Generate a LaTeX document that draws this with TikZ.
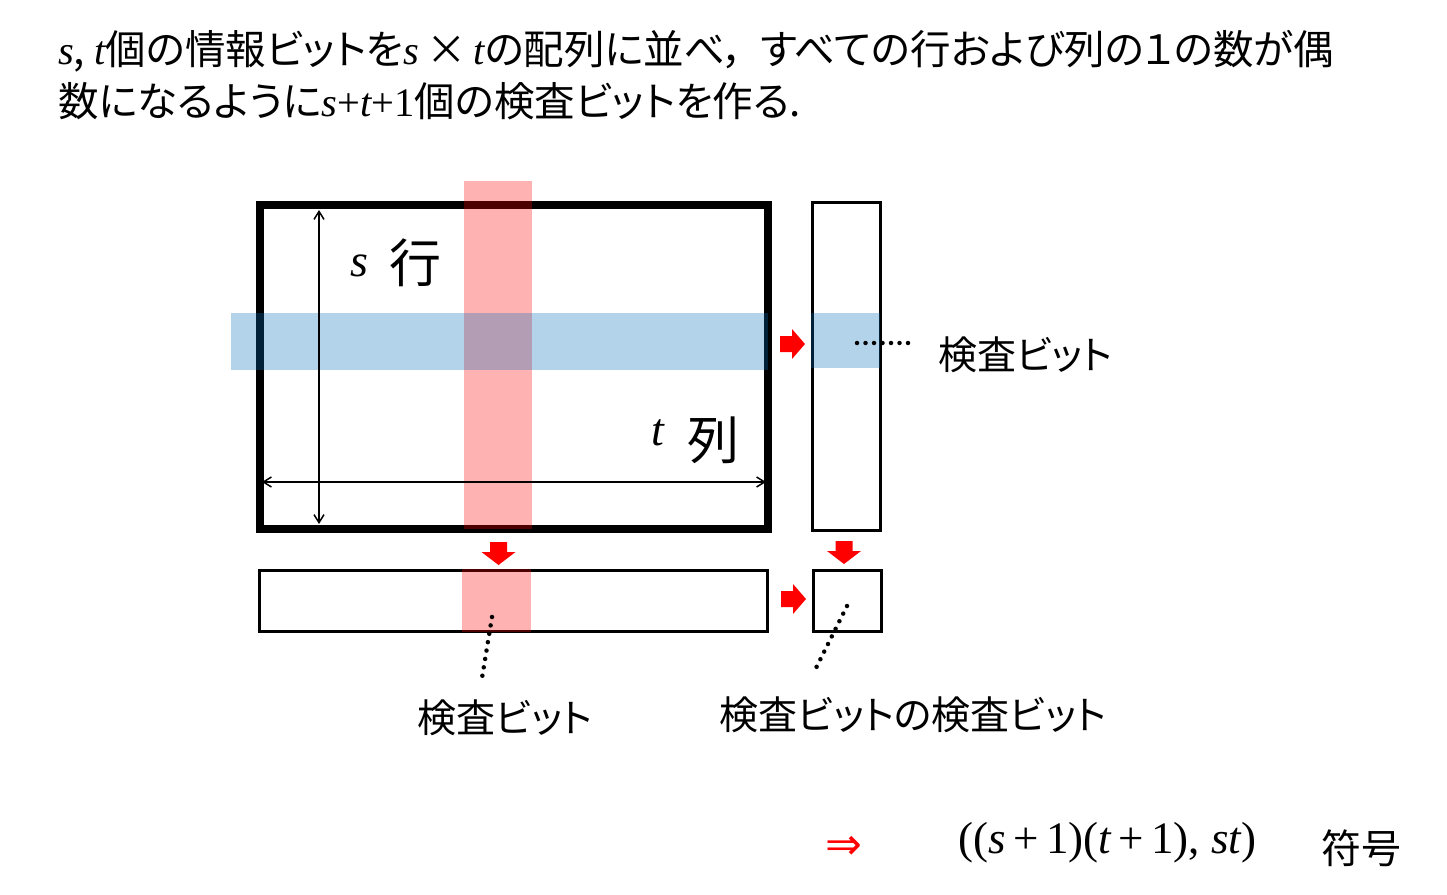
\documentclass[tikz,border=0pt]{standalone}
\usepackage{fontspec}
\setmainfont{Liberation Serif}
\newfontfamily\jp[RawFeature=+palt]{Noto Sans CJK JP}
\newfontfamily\dejavu{DejaVu Sans}
\usetikzlibrary{arrows.meta}
\newcommand\mvar[1]{{\rmfamily\itshape #1}}
\tikzset{
  rarr/.pic={\fill[red] (0,-8)--(12,-8)--(12,-15)--(25,0)--(12,15)--(12,8)--(0,8)--cycle;},
  darr/.pic={\fill[red] (-8.5,0)--(8.5,0)--(8.5,10)--(17,10)--(0,23)--(-17,10)--(-8.5,10)--cycle;}
}
\begin{document}
\begin{tikzpicture}[x=1pt,y=-1pt,
  mainframe/.style={draw=black,line width=8pt,minimum width=508pt,minimum height=324pt,inner sep=0pt,outer sep=0pt},
  cbox/.style={draw=black,line width=3pt,inner sep=0pt,outer sep=0pt},
  redband/.style={fill=red,fill opacity=0.3},
  blueband/.style={fill={rgb,255:red,5;green,110;blue,186},fill opacity=0.3},
  dimarrow/.style={line width=1.5pt,{Straight Barb[length=8pt,width=10pt]}-{Straight Barb[length=8pt,width=10pt]}},
  dotline/.style={line width=4.5pt,line cap=round,dash pattern=on 0pt off 8.5pt},
  topline/.style={font={\jp\fontsize{40.5}{42}\selectfont},inner sep=0pt,anchor=west},
  lbl/.style={font={\jp\fontsize{39}{42}\selectfont},inner sep=0pt},
  biglbl/.style={font={\jp\fontsize{52}{56}\selectfont},inner sep=0pt},
  varlbl/.style={font={\fontsize{46}{50}\selectfont\itshape},inner sep=0pt},
]
\fill[white] (0,0) rectangle (1447,894);
\useasboundingbox (0,0) rectangle (1447,894);

% header text
\node[topline] (line1) at (58,51) {\mvar{s}, \mvar{t}個の情報ビットを\mvar{s}\,×\,\mvar{t}の配列に並べ，\hspace{16pt}すべての行および列の１の数が偶};
\node[topline] (line2) at (58,101) {数になるように{\rmfamily\mvar{s}+\mvar{t}+1}個の検査ビットを作る.};

% boxes
\node[mainframe] (main) at (514,367) {};
\node[cbox,minimum width=68pt,minimum height=328pt] (col) at (846.5,366) {};
\node[cbox,minimum width=508pt,minimum height=61pt] (row) at (513,601) {};
\node[cbox,minimum width=68pt,minimum height=61pt] (corner) at (847,601) {};

% bands
\fill[redband] (464,181) rectangle (532,529);
\fill[redband] (462,569) rectangle (531,632);
\fill[blueband] (231,313) rectangle (768,370);
\fill[blueband] (811,313) rectangle (880,368);

% dimension arrows
\coordinate (vtop) at (319,210);
\coordinate (vbot) at (319,524);
\coordinate (hl) at (262,482);
\coordinate (hr) at (766,482);
\draw[dimarrow] (vtop) -- (vbot);
\draw[dimarrow] (hl) -- (hr);

% labels inside
\node[varlbl] (svar) at (359,266) {s};
\node[biglbl] (gyo) at (415,263) {行};
\node[varlbl] (tvar) at (658,433) {t};
\node[biglbl] (retsu) at (713,440) {列};

% red block arrows
\pic at (780,344) {rarr};
\pic at (781,599) {rarr};
\pic at (498.5,542) {darr};
\pic at (844,541) {darr};

% dotted leaders
\coordinate (d1a) at (857,343);
\coordinate (d1b) at (911,343);
\coordinate (d2a) at (492,617);
\coordinate (d2b) at (482,678);
\coordinate (d3a) at (847,606);
\coordinate (d3b) at (815,670);
\draw[dotline] (d1a) -- (d1b);
\draw[dotline] (d2a) -- (d2b);
\draw[dotline] (d3a) -- (d3b);

% outside labels
\node[lbl,anchor=west] (chk1) at (938,355) {検査ビット};
\node[lbl] (chk2) at (505,718) {検査ビット};
\node[lbl] (chk3) at (913,715) {検査ビットの検査ビット};

% bottom formula
\node[inner sep=0pt,text=red,font={\dejavu\fontsize{44}{46}\selectfont}] (impl) at (844,848) {⇒};
\node[inner sep=0pt,anchor=west,font={\fontsize{45}{48}\selectfont}] (code) at (958,843) {((\mvar{s}\,+\,1)(\mvar{t}\,+\,1), \mvar{st})};
\node[inner sep=0pt,font={\jp\fontsize{40}{42}\selectfont}] (fugo) at (1361,848) {符号};
\end{tikzpicture}
\end{document}
